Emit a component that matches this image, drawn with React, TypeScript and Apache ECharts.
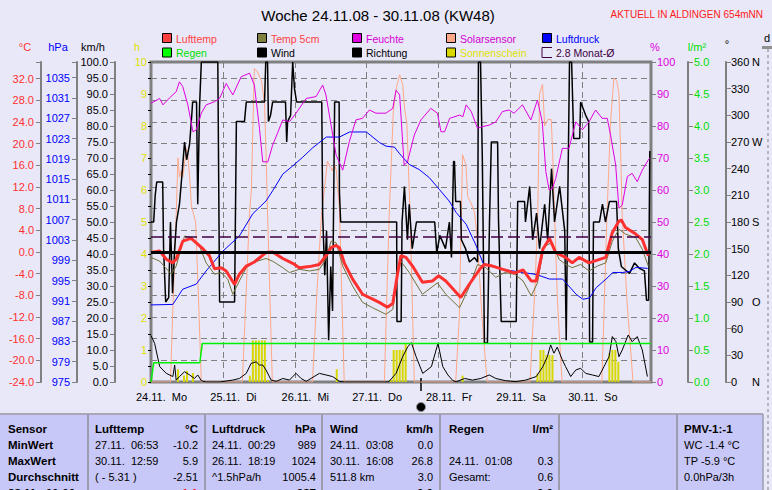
import React, { useEffect, useRef } from 'react';
import * as echarts from 'echarts';

const FONT = '"Liberation Sans", Arial, sans-serif';
const BG = '#E8E8F8';

// x axis: hours since 24.11. 00:00
const dayLabels = ['24.11.\u00a0\u00a0Mo', '25.11.\u00a0\u00a0Di', '26.11.\u00a0\u00a0Mi', '27.11.\u00a0\u00a0Do', '28.11.\u00a0\u00a0Fr', '29.11.\u00a0\u00a0Sa', '30.11.\u00a0\u00a0So'];
const dirSuffix: Record<number, string> = { 0: 'N', 90: 'O', 180: 'S', 270: 'W', 360: 'N' };

const lufttemp: [number, number][] = [
  [0, -0.1], [2.9, 0.2], [5.1, -1.35], [7.3, -2.0], [8.4, -1.35], [10.6, 2.0], [13.4, 2.5], [15.1, 1.7], [17.3, 0.6],
  [19.5, -0.7], [21.2, -3.1], [23.4, -2.9], [25.1, -3.5], [27.9, -6.0], [29.5, -4.1], [31.8, -2.6], [34.5, -1.85],
  [38.4, -0.1], [40.6, 0.0], [44, -1.2], [47.3, -2.1], [49.5, -2.9], [52.9, -2.7], [56.2, -2.3], [58.4, -0.7],
  [60.1, 0.8], [61.8, 1.2], [62.9, 0.8], [64.5, -2.0], [67.3, -5.0], [70.6, -7.8], [74, -8.7], [76.5, -9.4], [78.9, -10.2],
  [80.7, -9.5], [82.3, -4.0], [83.4, -0.7], [85.1, -1.0], [87.3, -2.6], [90.6, -5.6], [94, -5.35], [96, -4.4],
  [98.4, -5.35], [103.4, -8.4], [106.2, -6.0], [109.7, -3.2], [111.2, -2.3], [114, -2.6], [117.5, -3.2], [121.4, -3.9],
  [124.2, -3.3], [126.9, -5.35], [128.6, -5.35], [130.8, 0.5], [133, 2.5], [135.1, -0.1], [138.4, -1.0], [140.6, -2.0],
  [142.9, -1.0], [146.2, -2.0], [149, -1.5], [151.8, -1.0], [154, 3.6], [156.2, 5.7], [157, 5.9], [158.4, 4.5], [161.8, 3.3],
  [164, 2.3], [166, -0.7],
];

const temp5cm: [number, number][] = [
  [0, -1.0], [2.9, -1.7], [6.8, -4.1], [8.4, -2.6], [11.2, 2.95], [13.4, 2.65], [16.2, 1.1], [18.4, -2.0], [21.2, -4.1],
  [23.4, -3.8], [25.6, -5.0], [27.3, -7.8], [29.5, -5.35], [31.8, -2.9], [34.5, -1.85], [38.4, -1.2], [40.6, -1.7],
  [44, -2.9], [46.2, -3.8], [49.5, -3.2], [52.9, -3.5], [56.2, -3.2], [58.4, -1.35], [60.1, 2.0], [61.8, 1.7],
  [64, -2.6], [67.3, -6.3], [70.6, -9.3], [74, -10.3], [78.4, -11.5], [80.7, -10.6], [82.3, -4.4], [83.4, -1.7],
  [86.2, -3.8], [90.6, -7.8], [95.6, -5.7], [98.4, -7.8], [103, -10.3], [106.2, -6.5], [109, -2.3], [111.8, -2.9],
  [115.1, -4.7], [118, -3.8], [121.4, -4.1], [124.2, -5.35], [126.9, -8.1], [129, -5.7], [131.2, 1.1], [134, 1.7],
  [136.2, -1.35], [138.4, -2.3], [140.6, -2.9], [143.4, -2.3], [146.2, -3.5], [149, -2.6], [151.8, -2.0], [154, 2.0],
  [156.2, 4.2], [158.4, 3.3], [161.8, 2.65], [164, 0.5], [166, -2.6],
];

const feuchte: [number, number][] = [
  [0, 87.1], [2.9, 88.6], [4, 86.6], [6.2, 88.8], [8.4, 90.7], [9.5, 93.8], [10.6, 92.3], [12.3, 86.6], [14, 78.2],
  [15.1, 78.8], [16.8, 84], [18.4, 86.6], [21.2, 87.6], [22.9, 88.6], [25.1, 93.3], [27.3, 89.7], [30.1, 95.4],
  [32.9, 96.5], [34.5, 92.8], [36.2, 79.3], [37.3, 68.8], [39, 68.8], [40.6, 74], [44, 81.9], [46.2, 81.3], [48.4, 84],
  [51.8, 88.6], [55.1, 89.2], [57.3, 92.8], [58.4, 89.7], [60.1, 80.3], [61.8, 70.9], [64, 66.2], [66.2, 75.1],
  [68.4, 81.9], [70.6, 82.4], [72.9, 85], [75.1, 84], [78.4, 84], [80.7, 85.5], [81.8, 91.2], [83, 89.7], [84.5, 67.8],
  [85.6, 68.8], [87.9, 77.2], [90.1, 81.9], [93.4, 85.5], [95.6, 84], [96.8, 78.2], [98, 78.2], [99.7, 82.4], [103, 83.4],
  [104.1, 82.9], [105.2, 86.6], [106.9, 84.5], [109, 79.3], [110.6, 79.8], [113, 80.3], [115.1, 81.3], [117.3, 84.5],
  [119.5, 85], [121.2, 84], [124, 86.6], [126.8, 81.9], [129, 88.1], [130.6, 81.3], [131.8, 65.7], [132.9, 60],
  [134, 60.5], [135.1, 63.6], [137.3, 73], [139.5, 73], [141.8, 81.3], [144, 78.8], [146.2, 81.3], [148.4, 85],
  [150.6, 82.4], [152.3, 82.4], [153.4, 77.2], [155.1, 67.8], [156.2, 54.3], [157.3, 55.3], [159, 64.2], [160.6, 65.2],
  [162.3, 62.6], [164, 66.2], [166, 69.4], [166.5, 70],
];

const solar: [number, number][] = [
  [0, 0], [6.5, 0], [7.2, 20], [8.4, 52], [9.0, 70], [9.5, 64], [10.1, 66], [10.6, 64], [11.8, 73], [12.3, 71], [12.9, 64],
  [13.5, 55], [14.9, 50], [15.9, 25], [16.8, 0],
  [30.5, 0], [32.9, 53], [33.5, 60], [34.5, 98], [35.5, 97], [36.9, 94], [37.9, 87], [38.5, 68], [38.9, 53], [40.5, 0],
  [53.9, 0], [55.5, 30], [56.9, 52], [58.9, 69], [59.9, 67], [60.5, 66], [61.2, 68], [61.9, 66], [62.9, 54], [64.5, 0],
  [77.9, 0], [79.5, 52], [80.9, 85], [81.9, 92], [83.0, 96], [84.0, 93], [84.7, 85], [85.4, 81], [86.5, 52], [87.9, 0],
  [101.7, 0], [102.9, 20], [104, 71], [105.1, 68], [105.7, 58], [106.8, 56], [108, 53], [108.9, 45], [110.5, 20], [112.2, 0],
  [126.5, 0], [128.2, 30], [129.1, 52], [129.7, 90], [130.7, 93], [131.4, 80], [132.4, 82], [133.6, 82], [134.1, 71],
  [134.7, 52], [135.7, 25], [137.2, 0],
  [150.5, 0], [152.2, 52], [153.4, 81], [154.5, 95], [155.5, 94], [156.2, 90], [156.8, 71], [157.3, 52], [158.9, 25],
  [160.9, 0], [166.9, 0],
];

const luftdruck: [number, number][] = [
  [0, 990.2], [7.3, 990.3], [10.6, 993.3], [15.1, 994.3], [18.4, 996.9], [24, 1000.8], [29.5, 1003.8], [34, 1008.2],
  [38.4, 1010.7], [40.6, 1012.7], [44, 1016], [47.3, 1017.6], [50.6, 1019.3], [54, 1021.2], [56.8, 1022.5],
  [58.5, 1023.3], [62.9, 1023.3], [66.3, 1024.3], [71.9, 1024.3], [76.3, 1022.2], [78.5, 1021.5], [81.3, 1021.3],
  [83, 1020], [86.2, 1017.9], [89.5, 1016.9], [92.9, 1015.3], [96.2, 1013], [99.5, 1010.7], [101.9, 1008.4],
  [105.2, 1006.1], [108.6, 1001.8], [110.8, 998.5], [113, 997.9], [117.5, 997.2], [124.1, 996.6], [128.6, 996.2],
  [133, 995.3], [137.4, 995.3], [141.9, 992.3], [144.2, 991.3], [146.4, 991.6], [148.6, 993.6], [151.9, 995.3],
  [154.2, 996.6], [157.5, 996.6], [159.7, 996.8], [161.9, 997.6], [165.8, 997.4],
];

const regen: [number, number][] = [[0, 0], [0.2, 0], [0.9, 0.3], [16.3, 0.3], [17.1, 0.6], [166.9, 0.6]];

const wind: [number, number][] = [
  [0, 14.5], [1.2, 12.1], [2.9, 4.8], [5.1, 2.7], [7.3, 1.7], [7.9, 5.3], [8.4, 0.6], [9.5, 1.7], [11.2, 3.2], [12.9, 2.2],
  [14.5, 1.1], [15.6, 2.2], [16.8, 0.4], [18.4, 0], [22.9, 0], [27.3, 0.6], [29.5, 1.1], [31.8, 2.7], [33.4, 5.8],
  [35.1, 6.3], [36.2, 5.3], [37.3, 5.3], [38.4, 3.75], [40.1, 0.6], [41.8, 0.2], [44, 1.1], [46.2, 0.6], [48.4, 2.7],
  [50.1, 1.1], [51.8, 0.2], [56.2, 2.7], [58.4, 2.2], [60.6, 1.7], [62.9, 0.2], [64.5, 0], [79, 0], [79.5, 0.2],
  [81.8, 2.7], [84, 7.9], [85.7, 11], [86.9, 12.3], [88.5, 7.9], [90.7, 2.7], [93.6, 4.8], [95.8, 12.1], [97.4, 4.8],
  [99.1, 2.2], [100.8, 0.4], [101.9, 0.1], [104.7, 1.1], [107.3, 0.6], [110.1, 1.1], [112.9, 2.2], [115.1, 1.1],
  [118.4, 0.4], [121.8, 0.1], [125.1, 0.6], [128.6, 1.7], [130.8, 4.8], [132.3, 7.9], [133.4, 11.6], [134.5, 9.0],
  [135.6, 10.9], [137.3, 6.9], [138.4, 4.8], [140.1, 1.7], [141.8, 3.75], [143.4, 4.3], [145.1, 2.7], [147.3, 2.2],
  [149.5, 1.7], [151.2, 4.8], [152.9, 7.9], [154, 14.2], [155.2, 12.6], [156.2, 7.9], [157.3, 10], [159.3, 14.7],
  [160.6, 12.6], [162.3, 14.2], [164, 10], [165.7, 1.7],
];

const richtung: [number, number][] = [
  [0, 180], [0.9, 180], [1.4, 210], [1.9, 225], [3.9, 225], [4.2, 150], [4.9, 90], [5.9, 95], [6.5, 180], [7.2, 100],
  [7.9, 150], [8.5, 180], [9.5, 200], [10.5, 240], [11.2, 270], [11.9, 250], [12.9, 268], [13.6, 300], [13.9, 315],
  [15.2, 315], [15.6, 200], [16.2, 310], [16.8, 360], [22.3, 360], [22.9, 90], [27.9, 90], [28.5, 293], [31.2, 293],
  [31.8, 315], [37.9, 315], [38.3, 360], [38.9, 360], [39.2, 293], [39.9, 300], [40.6, 315], [44.9, 315], [45.3, 270],
  [45.6, 293], [46.6, 300], [47.3, 360], [47.9, 330], [48.6, 315], [57, 315], [57.3, 188], [58, 120], [58.6, 170],
  [59.3, 47], [60, 130], [60.6, 80], [61.3, 315], [62.8, 315], [62.9, 214], [63.3, 180], [82, 180], [82.1, 68],
  [83.5, 68], [83.8, 180], [84.6, 220], [85.6, 160], [86.2, 200], [87.2, 150], [88.6, 180], [94.7, 180], [95.4, 145],
  [96.4, 165], [98.3, 150], [99.6, 180], [100.3, 140], [101, 248], [101.3, 248], [101.7, 203], [103.3, 203],
  [103.6, 160], [105, 150], [106.3, 135], [108, 140], [109, 135], [109.3, 360], [110, 360], [110.6, 250], [111.3, 44],
  [112.3, 44], [113, 182], [113.6, 270], [115.7, 270], [116, 182], [116.9, 68], [121.9, 68], [122.4, 203], [124.7, 203],
  [125, 180], [126.4, 220], [127.4, 160], [128.7, 190], [129.7, 150], [131.4, 200], [132.4, 160], [133.7, 240],
  [134.7, 180], [136.4, 220], [138.1, 170], [138.6, 47], [139.1, 200], [139.7, 360], [140.4, 360], [141.1, 274],
  [143.1, 274], [143.4, 315], [145.1, 300], [146.1, 293], [146.4, 45], [147.4, 45], [147.7, 180], [149.7, 180],
  [150.7, 200], [151.7, 180], [153, 203], [155.4, 203], [156, 150], [157, 130], [159.7, 122], [161.4, 134], [163, 128],
  [164.7, 125], [165.4, 92], [166.1, 92], [166.5, 260],
];

const sonnenschein: [number, number][] = [
  [9, 0.4], [11, 0.2], [12, 0.35], [14, 0.28],
  [33, 0.2], [34, 1.3], [35, 1.3], [36, 1.3], [37, 1.3], [38, 1.3], [39, 0.06],
  [62, 0.4],
  [80, 0.06], [81, 1.0], [82, 1.0], [83, 1.0], [84, 1.0], [85, 1.2],
  [104, 0.2],
  [129, 0.27], [130, 1.0], [131, 1.0], [132, 0.84], [133, 0.84], [134, 0.84],
  [153, 0.9], [154, 1.0], [155, 1.0], [156, 0.63],
];

const monatMittel = 2.8;

const legendItems = [
  { name: 'Lufttemp', box: '#FF4040', text: '#FF4040', col: 0, row: 0 },
  { name: 'Temp 5cm', box: '#808040', text: '#FF4040', col: 1, row: 0 },
  { name: 'Feuchte', box: '#E000E0', text: '#D800D8', col: 2, row: 0 },
  { name: 'Solarsensor', box: '#FFA888', text: '#D000D0', col: 3, row: 0 },
  { name: 'Luftdruck', box: '#0000FF', text: '#0000FF', col: 4, row: 0 },
  { name: 'Regen', box: '#00FF00', text: '#00E000', col: 0, row: 1 },
  { name: 'Wind', box: '#000000', text: '#000000', col: 1, row: 1 },
  { name: 'Richtung', box: '#000000', text: '#000000', col: 2, row: 1 },
  { name: 'Sonnenschein', box: '#D8D800', text: '#E0E000', col: 3, row: 1 },
  { name: '2.8 Monat-\u00d8', box: 'none', text: '#400040', col: 4, row: 1 },
];
const legendX = [162, 257, 352, 446, 542];

const tableHeader = ['Sensor', 'Lufttemp', '\u00b0C', 'Luftdruck', 'hPa', 'Wind', 'km/h', 'Regen', 'l/m\u00b2', 'PMV-1:-1'];
const tableRowLabels = ['MinWert', 'MaxWert', 'Durchschnitt', '28.11.\u00a0\u00a000:00'];
const tableRows: string[][] = [
  ['27.11.\u00a0\u00a006:53', '-10.2', '24.11.\u00a0\u00a000:29', '989', '24.11.\u00a0\u00a003:08', '0.0', '', '', 'WC -1.4 \u00b0C'],
  ['30.11.\u00a0\u00a012:59', '5.9', '26.11.\u00a0\u00a018:19', '1024', '30.11.\u00a0\u00a016:08', '26.8', '24.11.\u00a0\u00a001:08', '0.3', 'TP -5.9 \u00b0C'],
  ['(\u00a0-\u00a05.31\u00a0)', '-2.51', '^1.5hPa/h', '1005.4', '511.8 km', '3.0', 'Gesamt:', '0.6', '0.0hPa/3h'],
];
// last, cut-off row (current values)
const currentRow: string[] = ['-1.1', '987', '0.0', '0.0'];

function buildOption() {
  const g: any[] = [];
  const txt = (text: string, x: number, y: number, fill: string, size = 11, align = 'left', weight = 'normal') =>
    g.push({ type: 'text', x, y, silent: true, style: { text, fill, fontSize: size, fontFamily: FONT, fontWeight: weight, align, verticalAlign: 'middle' } });

  // title
  txt('Woche 24.11.08 - 30.11.08 (KW48)', 378, 15, '#000', 15, 'center');
  txt('AKTUELL IN ALDINGEN 654mNN', 763, 14, '#FF2020', 10, 'right');
  // axis headers
  txt('\u00b0C', 25, 47, '#FF3030', 11, 'center');
  txt('hPa', 58, 47, '#0000FF', 11, 'center');
  txt('km/h', 93, 47, '#000', 11, 'center');
  txt('h', 137, 47, '#E0E000', 11, 'center');
  txt('%', 655, 47, '#E000E0', 11, 'center');
  txt('l/m\u00b2', 697, 47, '#00E000', 11, 'center');
  txt('\u00b0', 727, 44, '#000', 11, 'center');
  txt('d', 767, 38, '#000', 11, 'center');
  g.push({ type: 'rect', shape: { x: 762, y: 46, width: 12, height: 3 }, style: { fill: '#909090' }, silent: true });
  g.push({ type: 'line', shape: { x1: 768, y1: 49, x2: 768, y2: 490 }, style: { stroke: '#808080', lineWidth: 1, lineDash: [3, 3] }, silent: true });

  // legend
  legendItems.forEach((it) => {
    const x = legendX[it.col];
    const y = it.row === 0 ? 33 : 47.5;
    if (it.box === 'none') {
      g.push({ type: 'polyline', shape: { points: [[x + 10, y], [x, y], [x, y + 10], [x + 10, y + 10]] }, style: { stroke: '#400040', lineWidth: 1, fill: null }, silent: true });
    } else {
      g.push({ type: 'rect', shape: { x: x + 0.5, y: y + 0.5, width: 9, height: 9 }, style: { fill: it.box, stroke: '#000', lineWidth: 1 }, silent: true });
    }
    txt(it.name, x + 14, y + 5.5, it.text, 10.5);
  });

  // current-time marker
  g.push({ type: 'line', shape: { x1: 421, y1: 378, x2: 421, y2: 391 }, style: { stroke: '#000', lineWidth: 1.5 }, silent: true });
  g.push({ type: 'circle', shape: { cx: 421, cy: 407, r: 4.5 }, style: { fill: '#000', stroke: '#909090', lineWidth: 1 }, silent: true });

  // table
  g.push({ type: 'rect', shape: { x: 0, y: 414, width: 763, height: 80 }, style: { fill: '#C8C8F8' }, silent: true });
  g.push({ type: 'line', shape: { x1: 0, y1: 414, x2: 763, y2: 414 }, style: { stroke: '#A8A8B8', lineWidth: 2 }, silent: true });
  [88, 205, 322, 440, 559, 677].forEach((x) =>
    g.push({ type: 'line', shape: { x1: x, y1: 414, x2: x, y2: 490 }, style: { stroke: '#9C9CAC', lineWidth: 2 }, silent: true }));
  g.push({ type: 'line', shape: { x1: 763, y1: 414, x2: 763, y2: 490 }, style: { stroke: '#9C9CAC', lineWidth: 1.5 }, silent: true });

  const rowY = [429, 445, 461, 477, 493];
  const leftX = [95, 212, 330, 449];
  const rightX = [198, 316, 433, 553];
  txt(tableHeader[0], 8, rowY[0], '#000', 11.5, 'left', 'bold');
  for (let c = 0; c < 4; c++) {
    txt(tableHeader[1 + c * 2], leftX[c], rowY[0], '#000', 11.5, 'left', 'bold');
    txt(tableHeader[2 + c * 2], rightX[c], rowY[0], '#000', 11.5, 'right', 'bold');
  }
  txt(tableHeader[9], 684, rowY[0], '#000', 11.5, 'left', 'bold');
  tableRows.forEach((row, r) => {
    txt(tableRowLabels[r], 8, rowY[r + 1], '#000', 11.5, 'left', 'bold');
    for (let c = 0; c < 4; c++) {
      if (row[c * 2]) txt(row[c * 2], leftX[c], rowY[r + 1], '#000', 11);
      if (row[c * 2 + 1]) txt(row[c * 2 + 1], rightX[c], rowY[r + 1], '#000', 11, 'right');
    }
    txt(row[8], 684, rowY[r + 1], '#000', 11);
  });
  txt(tableRowLabels[3], 8, rowY[4], '#000', 11.5, 'left', 'bold');
  currentRow.forEach((v, c) => txt(v, rightX[c], rowY[4], c === 0 ? '#FF2020' : '#000', 11.5, 'right', 'bold'));

  const axisLine = { show: true, onZero: false, lineStyle: { color: '#808080', width: 2 } };
  const tick = { show: true, length: 5, lineStyle: { color: '#808080' } };
  const isMult = (v: number, base: number, step: number) => Math.abs(((v - base) / step) - Math.round((v - base) / step)) < 1e-6;

  const yAxes: any[] = [
    { position: 'left', offset: 110, min: -24, max: 35.07, interval: 4,
      axisLabel: { color: '#FF3030', fontSize: 11, fontFamily: FONT, margin: 7, formatter: (v: number) => (isMult(v, -24, 4) ? v.toFixed(1) : '') },
      splitLine: { show: true, lineStyle: { color: '#808080', type: [6, 4], width: 1 } } },
    { position: 'left', offset: 74, min: 975, max: 1038.1, interval: 4,
      axisLabel: { color: '#0000FF', fontSize: 11, fontFamily: FONT, margin: 7, formatter: (v: number) => (isMult(v, 975, 4) ? String(Math.round(v)) : '') } },
    { position: 'left', offset: 36, min: 0, max: 100, interval: 5,
      axisLabel: { color: '#000', fontSize: 11, fontFamily: FONT, margin: 7, formatter: (v: number) => v.toFixed(1) } },
    { position: 'left', offset: 0, min: 0, max: 10, interval: 0.5,
      axisTick: { show: true, length: 3, lineStyle: { color: '#000' } },
      axisLabel: { color: '#E0E000', fontSize: 11, fontFamily: FONT, margin: 4, formatter: (v: number) => (isMult(v, 0, 1) ? String(Math.round(v)) : '') } },
    { position: 'right', offset: 0, min: 0, max: 100, interval: 10,
      axisLabel: { color: '#E000E0', fontSize: 11, fontFamily: FONT, margin: 6 } },
    { position: 'right', offset: 37, min: 0, max: 5, interval: 0.5,
      axisLabel: { color: '#00E000', fontSize: 11, fontFamily: FONT, margin: 6, formatter: (v: number) => v.toFixed(1) } },
    { position: 'right', offset: 75, min: 0, max: 360, interval: 30,
      axisLabel: { color: '#000', fontSize: 11, fontFamily: FONT, margin: 5,
        formatter: (v: number) => (dirSuffix[v] !== undefined ? `{n|${v}}{s|${dirSuffix[v]}}` : `{n|${v}}`),
        rich: { n: { width: 21, fontSize: 11, fontFamily: FONT, color: '#000' }, s: { fontSize: 11, fontFamily: FONT, color: '#000' } } } },
  ].map((a) => ({
    type: 'value', axisLine, axisTick: tick, splitLine: { show: false }, ...a,
  }));

  const lineSeries = (name: string, data: any, yAxisIndex: number, color: string, width: number, extra: any = {}) => ({
    type: 'line', name, data, yAxisIndex, showSymbol: false, symbol: 'none', silent: true,
    lineStyle: { color, width }, itemStyle: { color }, ...extra,
  });

  return {
    animation: false,
    backgroundColor: BG,
    grid: { left: 151, right: 121, top: 62, bottom: 108, show: true, borderColor: '#808080', borderWidth: 3, backgroundColor: 'transparent' },
    xAxis: {
      type: 'value', min: 0, max: 166.9, interval: 24,
      axisLine: { show: false },
      axisTick: { show: true, length: 7, lineStyle: { color: '#808080' } },
      splitLine: { show: true, lineStyle: { color: '#808080', type: [6, 4], width: 1 } },
      axisLabel: {
        margin: 9, fontSize: 11, fontFamily: FONT, color: '#000',
        formatter: (v: number) => (isMult(v, 0, 24) && dayLabels[Math.round(v / 24)] ? `{d|${dayLabels[Math.round(v / 24)]}}` : ''),
        rich: { d: { padding: [0, 0, 0, 21], fontSize: 11, fontFamily: FONT, color: '#000' } },
      },
    },
    yAxis: yAxes,
    series: [
      lineSeries('Solarsensor', solar, 4, '#FFA888', 1),
      lineSeries('Richtung', richtung, 6, '#000', 1.5),
      lineSeries('Wind', wind, 2, '#000', 1),
      lineSeries('Luftdruck', luftdruck, 1, '#0000FF', 1),
      lineSeries('Feuchte', feuchte, 4, '#E000E0', 1),
      { type: 'bar', name: 'Sonnenschein', data: sonnenschein, yAxisIndex: 3, barWidth: 2, itemStyle: { color: '#D8D800' }, silent: true },
      lineSeries('Regen', regen, 5, '#00F000', 1.5),
      lineSeries('Temp 5cm', temp5cm, 0, '#707038', 1),
      lineSeries('Lufttemp', lufttemp, 0, '#FF3030', 3, {
        markLine: {
          silent: true, symbol: ['none', 'none'], label: { show: false },
          data: [
            { yAxis: 0, lineStyle: { color: '#000', width: 3, type: 'solid' } },
            { yAxis: monatMittel, lineStyle: { color: '#400040', width: 1.5, type: [12, 5] } },
          ],
        },
      }),
    ],
    graphic: g,
  };
}

export default function App() {
  const ref = useRef<HTMLDivElement>(null);
  useEffect(() => {
    const chart = echarts.init(ref.current!, null, { renderer: 'svg' });
    chart.setOption(buildOption() as any);
    return () => chart.dispose();
  }, []);
  return <div ref={ref} style={{ position: 'absolute', left: 0, top: 0, width: 772, height: 490 }} />;
}
